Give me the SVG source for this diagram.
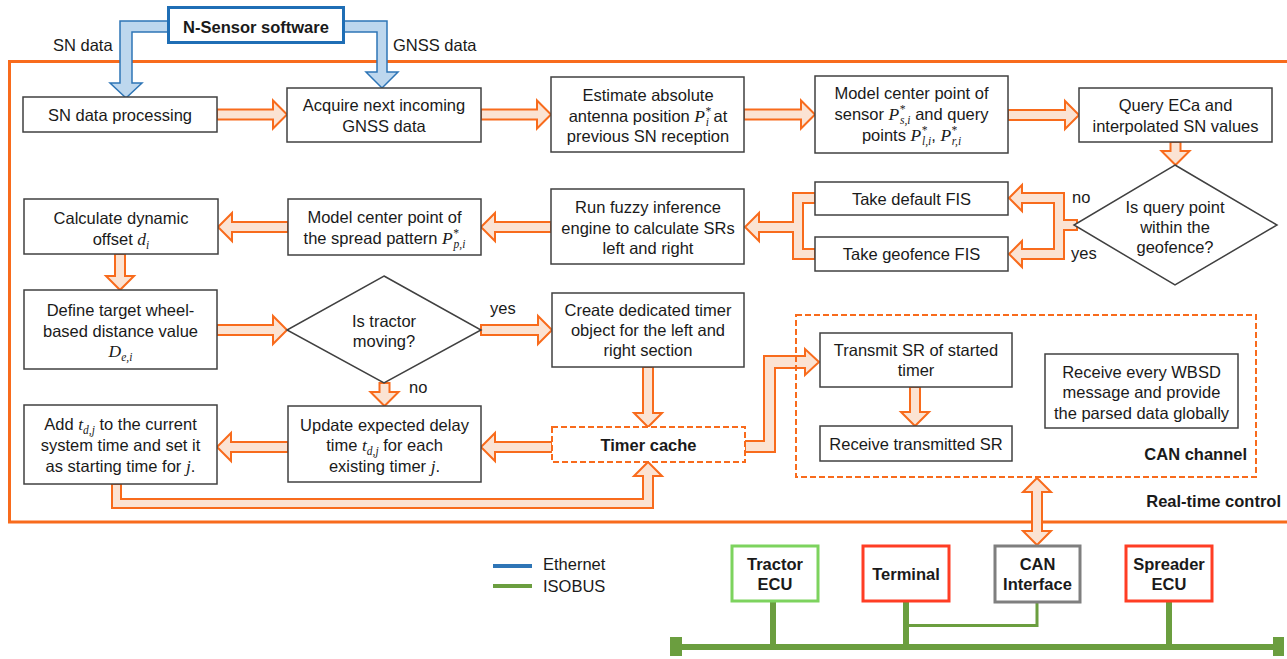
<svg xmlns="http://www.w3.org/2000/svg" width="1287" height="659" viewBox="0 0 1287 659">
<style>
.box{fill:#fff;stroke:#404040;stroke-width:1.5}
.t{font-family:"Liberation Sans",Arial,sans-serif;font-size:16.5px;fill:#1a1a1a;text-anchor:middle}
.l{font-family:"Liberation Sans",Arial,sans-serif;font-size:16.5px;fill:#1a1a1a}
.b{font-weight:bold}
.m{font-family:"Liberation Serif","DejaVu Serif",serif;font-style:italic;font-size:17.5px}
.s{font-family:"Liberation Serif","DejaVu Serif",serif;font-style:italic;font-size:11.5px}
.arr{fill:#FBE3D3;stroke:#F86B1C;stroke-width:2}
.barr{fill:#BDD7EE;stroke:#2E75B6;stroke-width:1.5}
.dash{fill:#fff;stroke:#F86B1C;stroke-width:2;stroke-dasharray:6 3}
.ecu{fill:#fff;stroke-width:3}
.bus{stroke:#6B9E3F;fill:none}
</style>
<rect width="1287" height="659" fill="#fff"/>
<!-- frame -->
<g id="frame">
<path d="M1290,61.5 H9.5 V522 H1290" fill="none" stroke="#F86B1C" stroke-width="3"/>
<text class="l b" x="1281" y="507" text-anchor="end">Real-time control</text>
</g>
<g id="connectors">
<polygon class="barr" points="168,21 120,21 120,83 110,83 126,98 142,83 132,83 132,32 168,32"/>
<polygon class="barr" points="344,21 387,21 387,72 398,72 382,88 366,72 377,72 377,32 344,32"/>
<text class="l" x="53" y="51">SN data</text>
<text class="l" x="393" y="51">GNSS data</text>
<polygon class="arr" points="217,109.5 273,109.5 273,100.5 287,114.5 273,128.5 273,119.5 217,119.5"/>
<polygon class="arr" points="481,109.5 537,109.5 537,100.5 551,114.5 537,128.5 537,119.5 481,119.5"/>
<polygon class="arr" points="744,109.5 801,109.5 801,100.5 815,114.5 801,128.5 801,119.5 744,119.5"/>
<polygon class="arr" points="1008,110 1065,110 1065,101 1079,115 1065,129 1065,120 1008,120"/>
<polygon class="arr" points="1170.5,142 1180.5,142 1180.5,151 1189.5,151 1175.5,165 1161.5,151 1170.5,151"/>
<polygon class="arr" points="1077,220 1064,220 1064,193 1022,193 1022,185 1009,198 1022,211 1022,203 1054,203 1054,249 1022,249 1022,241 1009,254 1022,267 1022,259 1064,259 1064,230 1077,230"/>
<text class="l" x="1072" y="203">no</text>
<text class="l" x="1071" y="259">yes</text>
<polygon class="arr" points="815,193 793,193 793,222 759,222 759,213 745,227 759,241 759,232 793,232 793,259 815,259 815,249 803,249 803,203 815,203"/>
<polygon class="arr" points="551,222 495,222 495,213 481,227 495,241 495,232 551,232"/>
<polygon class="arr" points="288,222 232,222 232,213 218,227 232,241 232,232 288,232"/>
<polygon class="arr" points="115,254 125,254 125,276 134,276 120,290 106,276 115,276"/>
<polygon class="arr" points="217,325 273,325 273,316 287,330 273,344 273,335 217,335"/>
<polygon class="arr" points="481,325 538,325 538,316 552,330 538,344 538,335 481,335"/>
<text class="l" x="490" y="314">yes</text>
<polygon class="arr" points="379.5,383 389.5,383 389.5,392 398.5,392 384.5,406 370.5,392 379.5,392"/>
<text class="l" x="409" y="393">no</text>
<polygon class="arr" points="643,367 653,367 653,413 662,413 648,427 634,413 643,413"/>
<polygon class="arr" points="552,442 495,442 495,433 481,447 495,461 495,452 552,452"/>
<polygon class="arr" points="288,442 231,442 231,433 217,447 231,461 231,452 288,452"/>
<polygon class="arr" points="112,484 112,508 653,508 653,476 662,476 648,462 634,476 643,476 643,499 121,499 121,484"/>
<polygon class="arr" points="745,441 764,441 764,356 805,356 805,349 819,362 805,375 805,368 775,368 775,452 745,452"/>
<polygon class="arr" points="910,387 920,387 920,412 929,412 915,426 901,412 910,412"/>
<polygon class="arr" points="1037,478 1051,492 1042,492 1042,531 1051,531 1037,545 1023,531 1032,531 1032,492 1023,492"/>
<!-- ISOBUS wiring -->
<path class="bus" d="M1037,602 V625.5 H906" stroke-width="3"/>
<path class="bus" d="M773,601 V647 M906,601 V647 M1169,601 V647 M676,647 H1278" stroke-width="6"/>
<rect x="670" y="637" width="12" height="19" fill="#6B9E3F"/>
<rect x="1273" y="637" width="11" height="19" fill="#6B9E3F"/>
</g>
<g id="n-sensor">
<rect x="168.5" y="7.5" width="175" height="35" fill="#fff" stroke="#1F6EB5" stroke-width="3"/>
<text class="t b" x="256" y="33">N-Sensor software</text>
</g>
<g id="sn-processing">
<rect class="box" x="23" y="97" width="194" height="35"/>
<text class="t" x="120" y="120.5">SN data processing</text>
</g>
<g id="acquire">
<rect class="box" x="287" y="88" width="194" height="54"/>
<text class="t" x="384" y="111">Acquire next incoming</text>
<text class="t" x="384" y="132">GNSS data</text>
</g>
<g id="estimate">
<rect class="box" x="551" y="77" width="193" height="75"/>
<text class="t" x="648" y="101">Estimate absolute</text>
<text class="t" x="648" y="122">antenna position <tspan class="m">P</tspan><tspan class="s" dy="-7">*</tspan><tspan class="s" dx="-5" dy="11">i</tspan><tspan dy="-4"> at</tspan></text>
<text class="t" x="648" y="142">previous SN reception</text>
</g>
<g id="model-sensor">
<rect class="box" x="815" y="76" width="193" height="77"/>
<text class="t" x="911.5" y="99">Model center point of</text>
<text class="t" x="911.5" y="120">sensor <tspan class="m">P</tspan><tspan class="s" dy="-7">*</tspan><tspan class="s" dx="-5" dy="11">s,i</tspan><tspan dy="-4"> and query</tspan></text>
<text class="t" x="911.5" y="141">points <tspan class="m">P</tspan><tspan class="s" dy="-7">*</tspan><tspan class="s" dx="-5" dy="11">l,i</tspan><tspan dy="-4">, </tspan><tspan class="m">P</tspan><tspan class="s" dy="-7">*</tspan><tspan class="s" dx="-5" dy="11">r,i</tspan></text>
</g>
<g id="query">
<rect class="box" x="1079" y="88" width="193" height="54"/>
<text class="t" x="1175.5" y="111">Query ECa and</text>
<text class="t" x="1175.5" y="132">interpolated SN values</text>
</g>
<g id="geofence-decision">
<polygon class="box" points="1175,165 1277,225 1175,285 1074,225"/>
<text class="t" x="1175" y="213">Is query point</text>
<text class="t" x="1175" y="233">within the</text>
<text class="t" x="1175" y="253">geofence?</text>
</g>
<g id="default-fis">
<rect class="box" x="815" y="182" width="193" height="33"/>
<text class="t" x="911.5" y="204.5">Take default FIS</text>
</g>
<g id="geofence-fis">
<rect class="box" x="815" y="237" width="193" height="34"/>
<text class="t" x="911.5" y="260">Take geofence FIS</text>
</g>
<g id="fuzzy">
<rect class="box" x="551" y="189" width="193" height="75"/>
<text class="t" x="648" y="213">Run fuzzy  inference</text>
<text class="t" x="648" y="234">engine to calculate SRs</text>
<text class="t" x="648" y="254">left and right</text>
</g>
<g id="model-spread">
<rect class="box" x="288" y="199" width="193" height="56"/>
<text class="t" x="384.5" y="223">Model center point of</text>
<text class="t" x="384.5" y="244">the spread pattern <tspan class="m">P</tspan><tspan class="s" dy="-7">*</tspan><tspan class="s" dx="-5" dy="11">p,i</tspan></text>
</g>
<g id="offset">
<rect class="box" x="24" y="199" width="194" height="55"/>
<text class="t" x="121" y="224">Calculate dynamic</text>
<text class="t" x="121" y="245">offset <tspan class="m">d</tspan><tspan class="s" dy="4">i</tspan></text>
</g>
<g id="define-target">
<rect class="box" x="24" y="290" width="193" height="79"/>
<text class="t" x="120.5" y="316">Define target wheel-</text>
<text class="t" x="120.5" y="337">based distance value</text>
<text class="t" x="120.5" y="357"><tspan class="m">D</tspan><tspan class="s" dy="4">e,i</tspan></text>
</g>
<g id="moving-decision">
<polygon class="box" points="384,276 481,330 384,383 287,330"/>
<text class="t" x="384" y="327">Is tractor</text>
<text class="t" x="384" y="347">moving?</text>
</g>
<g id="create-timer">
<rect class="box" x="552" y="293" width="192" height="74"/>
<text class="t" x="648" y="316">Create dedicated timer</text>
<text class="t" x="648" y="336">object for the left and</text>
<text class="t" x="648" y="356">right section</text>
</g>
<g id="add-time">
<rect class="box" x="24" y="405" width="193" height="79"/>
<text class="t" x="120.5" y="430">Add <tspan class="m">t</tspan><tspan class="s" dy="4">d,j</tspan><tspan dy="-4"> to the current</tspan></text>
<text class="t" x="120.5" y="451">system time and set it</text>
<text class="t" x="120.5" y="472">as starting time for <tspan class="m">j</tspan>.</text>
</g>
<g id="update-delay">
<rect class="box" x="288" y="406" width="193" height="76"/>
<text class="t" x="384.5" y="431">Update expected delay</text>
<text class="t" x="384.5" y="451">time <tspan class="m">t</tspan><tspan class="s" dy="4">d,j</tspan><tspan dy="-4"> for each</tspan></text>
<text class="t" x="384.5" y="472">existing timer <tspan class="m">j</tspan>.</text>
</g>
<g id="timer-cache">
<rect class="dash" x="552" y="427" width="193" height="35"/>
<text class="t b" x="648.5" y="451">Timer cache</text>
</g>
<g id="can-channel">
<rect class="dash" x="796" y="315" width="460" height="162" fill="none" style="fill:none"/>
<text class="l b" x="1247" y="460" text-anchor="end">CAN channel</text>
</g>
<g id="transmit">
<rect class="box" x="820" y="333" width="192" height="54"/>
<text class="t" x="916" y="356">Transmit SR of started</text>
<text class="t" x="916" y="376">timer</text>
</g>
<g id="receive-sr">
<rect class="box" x="820" y="426" width="192" height="35"/>
<text class="t" x="916" y="449.5">Receive transmitted SR</text>
</g>
<g id="receive-wbsd">
<rect class="box" x="1045" y="354" width="193" height="74"/>
<text class="t" x="1141.5" y="378">Receive every  WBSD</text>
<text class="t" x="1141.5" y="398">message and provide</text>
<text class="t" x="1141.5" y="419">the parsed data globally</text>
</g>
<g id="legend">
<line x1="493" y1="566" x2="532" y2="566" stroke="#2E75B6" stroke-width="4"/>
<line x1="493" y1="586" x2="532" y2="586" stroke="#6B9E3F" stroke-width="4"/>
<text class="l" x="543" y="570">Ethernet</text>
<text class="l" x="543" y="592">ISOBUS</text>
</g>
<g id="tractor-ecu">
<rect class="ecu" x="732" y="546" width="86" height="55" stroke="#7DD35E"/>
<text class="t b" x="775" y="570">Tractor</text>
<text class="t b" x="775" y="590">ECU</text>
</g>
<g id="terminal">
<rect class="ecu" x="863" y="546" width="86" height="55" stroke="#FF3D24"/>
<text class="t b" x="906" y="580">Terminal</text>
</g>
<g id="can-interface">
<rect class="ecu" x="995" y="546" width="85" height="56" stroke="#7F7F7F"/>
<text class="t b" x="1037.5" y="570">CAN</text>
<text class="t b" x="1037.5" y="590">Interface</text>
</g>
<g id="spreader-ecu">
<rect class="ecu" x="1126" y="546" width="86" height="55" stroke="#FF3D24"/>
<text class="t b" x="1169" y="570">Spreader</text>
<text class="t b" x="1169" y="590">ECU</text>
</g>
</svg>
